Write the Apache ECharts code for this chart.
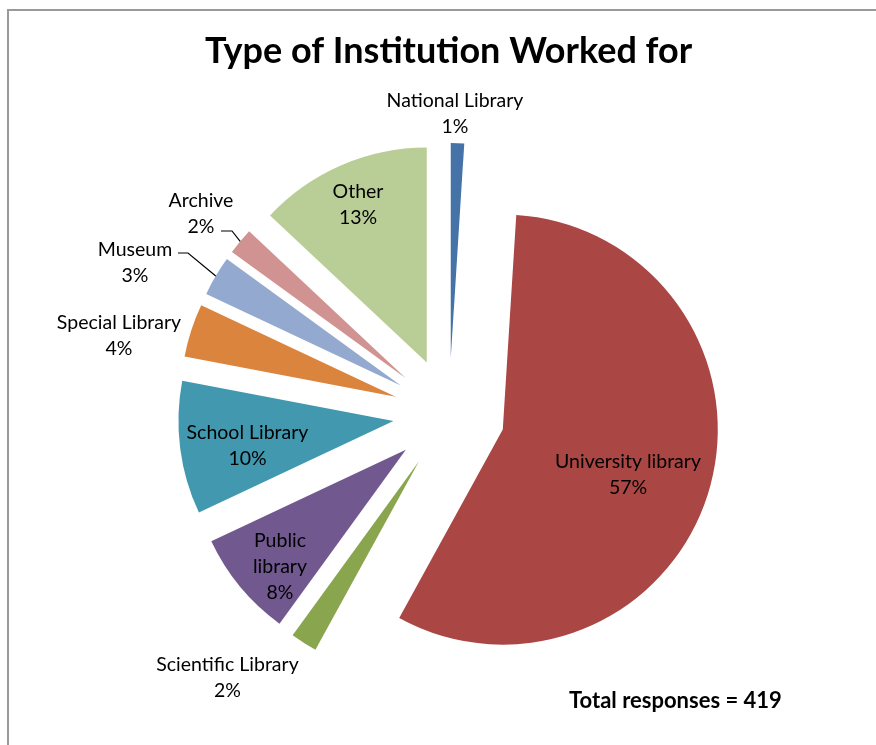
<!DOCTYPE html>
<html><head><meta charset="utf-8">
<script src="https://cdn.jsdelivr.net/npm/echarts@6/dist/echarts.min.js"></script>
<style>html,body{margin:0;padding:0;background:#fff}#chart{width:876px;height:745px}</style>
</head><body><div id="chart"></div>
<script>
// ---- data ----
const categories = ['National Library','University library','Scientific Library','Public library','School Library','Special Library','Museum','Archive','Other'];
const percents = [1, 57, 2, 8, 10, 4, 3, 2, 13];
const titleText = 'Type of Institution Worked for';
const totalResponses = 419;

// ---- style / layout config ----
const colors = ['#4572A7','#AA4643','#89A54E','#71588F','#4198AF','#DB843D','#93A9CF','#D19392','#B9CD96'];
const CENTER = [449, 414], RADIUS = 215, EXPLODE = 56;
const FONT = 'Lato';
// label block centre, relative to the pie centre (px)
const LABEL_AT = {
  'National Library': [6, -300.5],
  'University library': [179, 60.5],
  'Scientific Library': [-221.5, 264],
  'Public library': [-169, 153],
  'School Library': [-201.5, 32],
  'Special Library': [-330, -78.5],
  'Museum': [-314, -151],
  'Archive': [-248, -200.5],
  'Other': [-91, -209]
};
// leader line start relative to label centre, and length of the horizontal part
const LEADERS = { 'Museum': [43, -10, 10], 'Archive': [20, 17.5, 11] };
const LABEL_TEXT = { 'Public library': 'Public\nlibrary\n{d}%' };

const chart = echarts.init(document.getElementById('chart'), null, {renderer: 'canvas'});

const total = percents.reduce((a, b) => a + b, 0);
function midAngle(i) { // radians, clockwise from 12 o'clock
  let before = 0; for (let k = 0; k < i; k++) before += percents[k];
  return (before + percents[i] / 2) / total * Math.PI * 2;
}

const sliceData = categories.map((name, i) => ({
  name, value: percents[i], selected: true,
  itemStyle: { color: colors[i] }
}));
const labelData = categories.map((name, i) => ({
  name, value: percents[i],
  label: LABEL_TEXT[name] ? { formatter: LABEL_TEXT[name] } : undefined,
  labelLine: { show: !!LEADERS[name] }
}));

chart.setOption({
  animation: false,
  backgroundColor: '#fff',
  title: [{
    text: titleText, left: 200, top: 28,
    textStyle: { fontFamily: FONT, fontSize: 36, fontWeight: 'bold', color: '#000' }
  }, {
    text: 'Total responses = ' + totalResponses, left: 564, top: 685,
    textStyle: { fontFamily: FONT, fontSize: 22, fontWeight: 'bold', color: '#000' }
  }],
  graphic: [{
    type: 'rect', silent: true,
    shape: { x: 8, y: 10, width: 900, height: 800 },
    style: { fill: 'none', stroke: '#9a9a9a', lineWidth: 2 }
  }],
  series: [{
    type: 'pie', name: 'slices', z: 2,
    center: CENTER, radius: RADIUS,
    startAngle: 90, clockwise: true,
    selectedMode: 'multiple', selectedOffset: EXPLODE,
    avoidLabelOverlap: false, silent: true,
    itemStyle: { borderWidth: 0 },
    label: { show: false }, labelLine: { show: false },
    data: sliceData
  }, {
    type: 'pie', name: 'labels', z: 5,
    center: CENTER, radius: RADIUS,
    startAngle: 90, clockwise: true,
    avoidLabelOverlap: false, silent: true,
    itemStyle: { color: 'rgba(0,0,0,0)', borderWidth: 0 },
    label: {
      show: true, position: 'outside', formatter: '{b}\n{d}%', color: '#000',
      fontFamily: FONT, fontSize: 19.5, lineHeight: 26, align: 'center'
    },
    labelLine: { lineStyle: { color: '#000', width: 1.2 } },
    labelLayout: function (p) {
      const name = categories[p.dataIndex];
      const a = LABEL_AT[name];
      const cx = CENTER[0] + a[0], cy = CENTER[1] + a[1];
      const out = { x: cx, y: cy, align: 'center', verticalAlign: 'middle' };
      const L = LEADERS[name];
      if (L) {
        const ang = midAngle(p.dataIndex);
        const d = RADIUS + EXPLODE;
        const ex = CENTER[0] + Math.sin(ang) * d, ey = CENTER[1] - Math.cos(ang) * d;
        const sx = cx + L[0], sy = cy + L[1];
        out.labelLinePoints = [[sx, sy], [sx + L[2], sy], [ex, ey]];
      }
      return out;
    },
    data: labelData
  }]
});
</script></body></html>
